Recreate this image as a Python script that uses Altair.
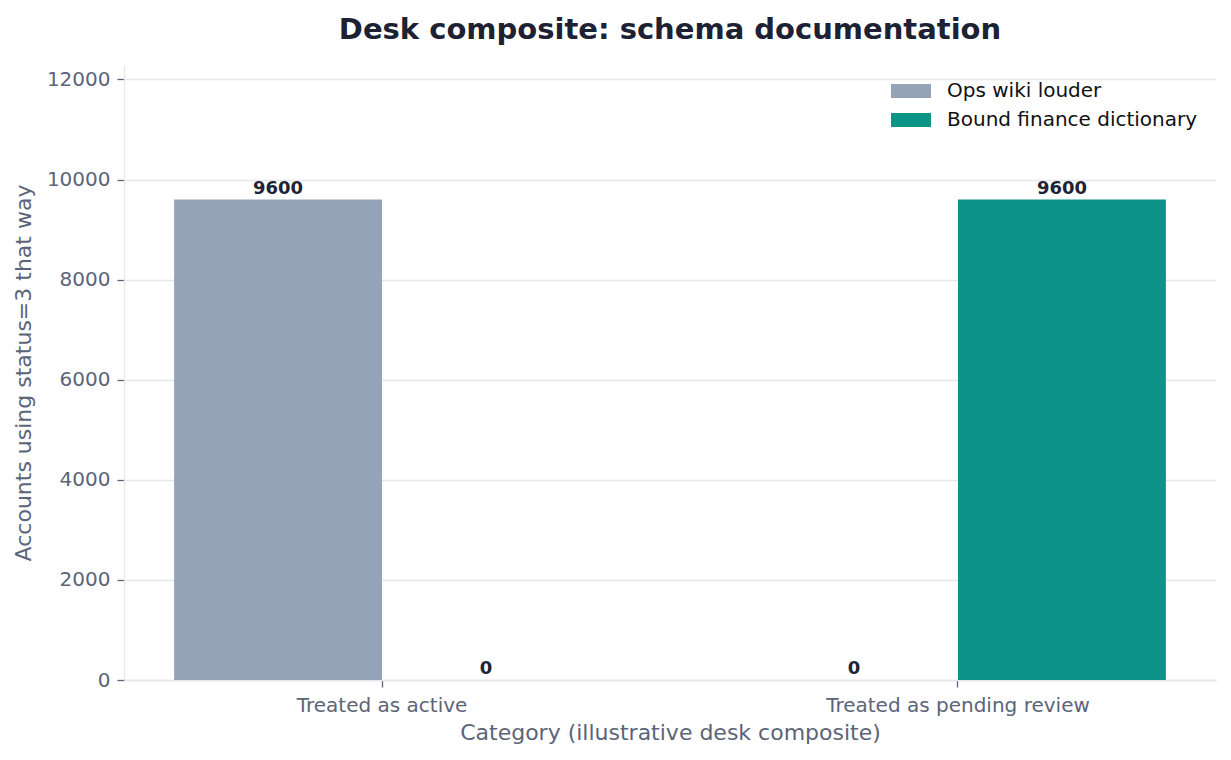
import altair as alt
import pandas as pd

categories = ["Treated as active", "Treated as pending review"]
series = ["Ops wiki louder", "Bound finance dictionary"]
ops_values = [9600, 0]
bound_values = [0, 9600]
colors = ["#94a3b8", "#0d9488"]
y_ticks = [0, 2000, 4000, 6000, 8000, 10000, 12000]

rows = []
for cat, v in zip(categories, ops_values):
    rows.append({"category": cat, "series": series[0], "value": v})
for cat, v in zip(categories, bound_values):
    rows.append({"category": cat, "series": series[1], "value": v})
df = pd.DataFrame(rows)

label_color = "#5b6478"
light = "#e5e7eb"

x_enc = alt.X(
    "category:N",
    sort=categories,
    title="Category (illustrative desk composite)",
    scale=alt.Scale(paddingInner=0.278, paddingOuter=0.087),
    axis=alt.Axis(
        labelAngle=0,
        labelFontSize=20,
        labelColor=label_color,
        labelPadding=8,
        labelLimit=0,
        titleFontSize=22,
        titleColor=label_color,
        titlePadding=7,
        titleFontWeight="normal",
        tickColor=label_color,
        tickSize=7,
        tickWidth=1.3,
        domainColor=light,
        domainWidth=1.3,
        grid=False,
    ),
)
xoff_enc = alt.XOffset(
    "series:N", sort=series, scale=alt.Scale(paddingInner=0, paddingOuter=0)
)
y_enc = alt.Y(
    "value:Q",
    title="Accounts using status=3 that way",
    scale=alt.Scale(domain=[0, 12288], nice=False),
    axis=alt.Axis(
        values=y_ticks,
        format="d",
        labelFontSize=20,
        labelColor=label_color,
        labelPadding=7,
        titleFontSize=22,
        titleColor=label_color,
        titlePadding=11,
        titleFontWeight="normal",
        tickColor=label_color,
        tickSize=7,
        tickWidth=1.3,
        domainColor=light,
        domainWidth=1.3,
        gridColor=light,
        gridWidth=1.3,
    ),
)

bars = alt.Chart(df).mark_bar().encode(
    x=x_enc,
    xOffset=xoff_enc,
    y=y_enc,
    color=alt.Color(
        "series:N",
        sort=series,
        scale=alt.Scale(domain=series, range=colors),
        legend=alt.Legend(
            title=None,
            orient="none",
            legendX=777,
            legendY=16,
            padding=0,
            symbolType="M-2.857,-1L2.857,-1L2.857,1L-2.857,1Z",
            symbolSize=196,
            symbolStrokeWidth=0,
            symbolOpacity=1,
            labelFontSize=20,
            labelColor="#111111",
            labelOffset=26,
            labelLimit=0,
            rowPadding=9,
        ),
    ),
)

texts = alt.Chart(df).mark_text(
    baseline="bottom", align="center", dy=-2, fontSize=18, fontWeight="bold", color="#1f2333"
).encode(
    x=alt.X("category:N", sort=categories),
    xOffset=alt.XOffset("series:N", sort=series),
    y=alt.Y("value:Q"),
    text=alt.Text("value:Q", format="d"),
)

chart = (
    alt.layer(bars, texts)
    .properties(
        width=1092,
        height=615,
        autosize=alt.AutoSizeParams(type="none"),
        padding={"left": 116, "top": 57, "right": 7, "bottom": 72},
        view=alt.ViewBackground(stroke="transparent", strokeWidth=0),
        title=alt.TitleParams(
            "Desk composite: schema documentation",
            fontSize=29,
            fontWeight="bold",
            color="#1d2133",
            anchor="middle",
            offset=20,
        ),
    )
    .configure_view(strokeWidth=0, stroke="transparent")
    .configure(font="DejaVu Sans", background="white")
)

chart.save("out.html", embed_options={"renderer": "svg", "actions": False})
